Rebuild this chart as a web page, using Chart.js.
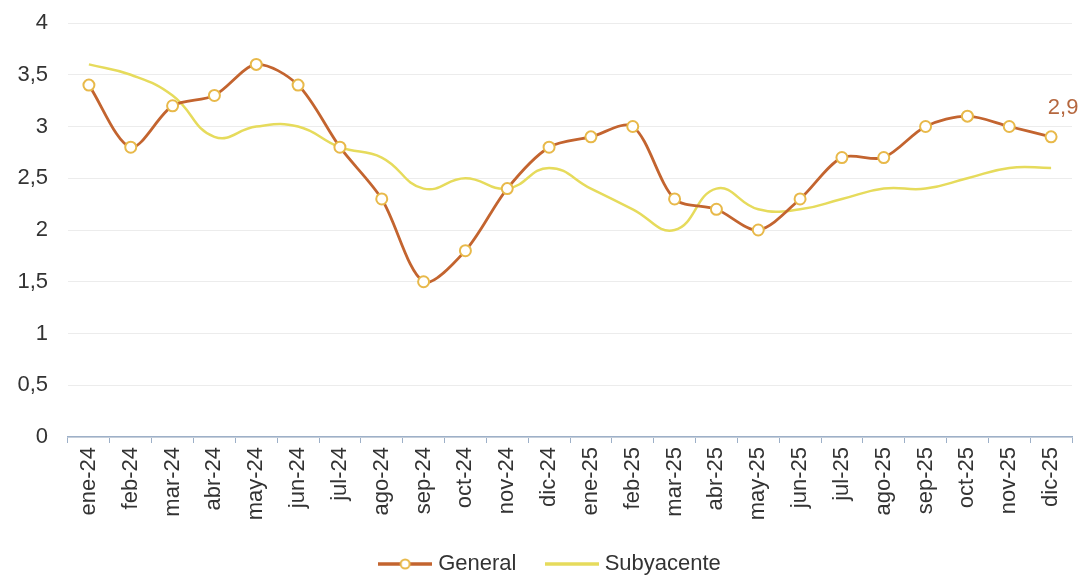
<!DOCTYPE html>
<html><head><meta charset="utf-8">
<script src="https://cdn.jsdelivr.net/npm/chart.js@4/dist/chart.umd.min.js"></script>
<style>html,body{margin:0;padding:0;background:#fff}#wrap{width:1083px;height:575px}</style>
</head><body><div id="wrap"><canvas id="c" width="1083" height="575"></canvas></div>
<script>
const categories = ["ene-24","feb-24","mar-24","abr-24","may-24","jun-24","jul-24","ago-24","sep-24","oct-24","nov-24","dic-24","ene-25","feb-25","mar-25","abr-25","may-25","jun-25","jul-25","ago-25","sep-25","oct-25","nov-25","dic-25"];
const general = [3.4,2.8,3.2,3.3,3.6,3.4,2.8,2.3,1.5,1.8,2.4,2.8,2.9,3.0,2.3,2.2,2.0,2.3,2.7,2.7,3.0,3.1,3.0,2.9];
const subyacente = [3.6,3.5,3.3,2.9,3.0,3.0,2.8,2.7,2.4,2.5,2.4,2.6,2.4,2.2,2.0,2.4,2.2,2.2,2.3,2.4,2.4,2.5,2.6,2.6];
const yTicks = [0,0.5,1,1.5,2,2.5,3,3.5,4];
const lastLabel = "2,9";

const FONT = '"Liberation Sans", Arial, sans-serif';
const cGen = '#c3642f', cPt = '#e8b94a', cSub = '#e6db5c';
function legendImg(line, withPoint){
  const cv = document.createElement('canvas'); cv.width = 54; cv.height = 14;
  const x = cv.getContext('2d');
  x.strokeStyle = line; x.lineWidth = 3.5; x.beginPath(); x.moveTo(0,7); x.lineTo(54,7); x.stroke();
  if (withPoint){ x.fillStyle='#fff'; x.strokeStyle=cPt; x.lineWidth=2; x.beginPath(); x.arc(27,7,4.5,0,Math.PI*2); x.fill(); x.stroke(); }
  return cv;
}
const imgs = [legendImg(cGen,true), legendImg(cSub,false)];
const legendTexts = ['General\u00a0\u00a0', 'Subyacente'];

const endLabel = {
  id:'endLabel',
  afterLayout(chart){ if (chart.legend){ chart.legend.left += 16; chart.legend.right += 16; } },
  afterDatasetsDraw(chart){
    const m = chart.getDatasetMeta(0); const p = m.data[m.data.length-1];
    const ctx = chart.ctx; ctx.save();
    ctx.font = '22px ' + FONT; ctx.fillStyle = '#b5673f';
    ctx.textAlign='center'; ctx.textBaseline='middle';
    ctx.fillText(lastLabel, p.x + 12, p.y - 29); ctx.restore();
  }
};

new Chart(document.getElementById('c'), {
  type:'line',
  data:{ labels: categories, datasets:[
    { label:'General', data: general, borderColor:cGen, borderWidth:2.8, tension:0.3,
      pointRadius:5.5, pointBorderWidth:2, pointBackgroundColor:'#fff', pointBorderColor:cPt, pointHoverRadius:5.5 },
    { label:'Subyacente', data: subyacente, borderColor:cSub, borderWidth:2.5, tension:0.45, pointRadius:0 }
  ]},
  options:{
    responsive:false, animation:false,
    layout:{ padding:{ top:23, right:11, left:0, bottom:-10 } },
    plugins:{
      tooltip:{enabled:false},
      legend:{ position:'bottom',
        labels:{ usePointStyle:true, pointStyleWidth:44, font:{size:22, family:FONT}, color:'#333', padding:21,
          generateLabels(chart){ return chart.data.datasets.map((d,i)=>({ text:legendTexts[i], pointStyle:imgs[i], fillStyle:'#fff', strokeStyle:'#fff', lineWidth:0, datasetIndex:i, fontColor:'#333' })); } } }
    },
    scales:{
      x:{ offset:true,
        grid:{ offset:true, drawOnChartArea:false, drawTicks:true, tickLength:6, color:'#9db0c8' },
        border:{ color:'#9db0c8', width:1.5 },
        ticks:{ minRotation:90, maxRotation:90, autoSkip:false, color:'#333', padding:4, font:{size:22, family:FONT} },
        afterFit(s){ s.height = 95; s.paddingLeft = 0; s.paddingRight = 0; }
      },
      y:{ min:0, max:4,
        afterBuildTicks(s){ s.ticks = yTicks.map(v=>({value:v})); },
        grid:{ color:'#ececec', drawTicks:false },
        border:{ display:false },
        ticks:{ padding:20, color:'#333', font:{size:22, family:FONT}, callback:v=>String(v).replace('.',',') },
        afterFit(s){ s.width = 68; s.paddingTop = 0; s.paddingBottom = 0; }
      }
    }
  },
  plugins:[endLabel]
});
</script></body></html>
